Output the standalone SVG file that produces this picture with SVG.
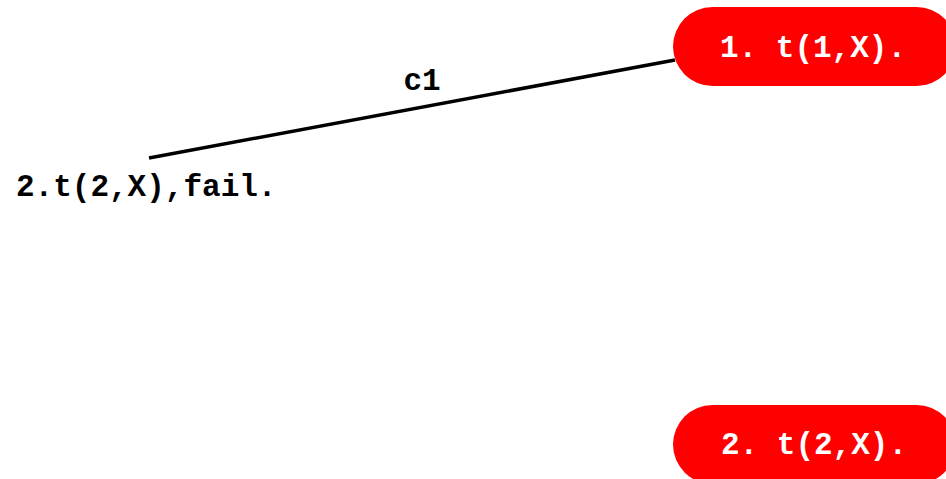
<svg xmlns="http://www.w3.org/2000/svg" width="946" height="479" viewBox="0 0 946 479">
<style>
.t{font-family:"Liberation Mono","Courier New",monospace;font-weight:bold;font-size:31px}
.nt{fill:#fff}
.nd{fill:#ff0000}
.e{stroke:#000;stroke-width:3.5;fill:none}
</style>
<rect width="946" height="479" fill="#fff"/>
<g id="connectors">
<line class="e" x1="149" y1="158" x2="675" y2="60"/>
<text class="t" x="422" y="90" text-anchor="middle">c1</text>
</g>
<g id="n1">
<rect class="nd" x="673" y="7" width="283" height="79" rx="39.5"/>
<text class="t nt" x="813" y="57" text-anchor="middle">1. t(1,X).</text>
</g>
<g id="n2">
<rect class="nd" x="673" y="405" width="283" height="79" rx="39.5"/>
<text class="t nt" x="814" y="454" text-anchor="middle">2. t(2,X).</text>
</g>
<g id="n3">
<text class="t" x="16" y="196">2.t(2,X),fail.</text>
</g>
</svg>
